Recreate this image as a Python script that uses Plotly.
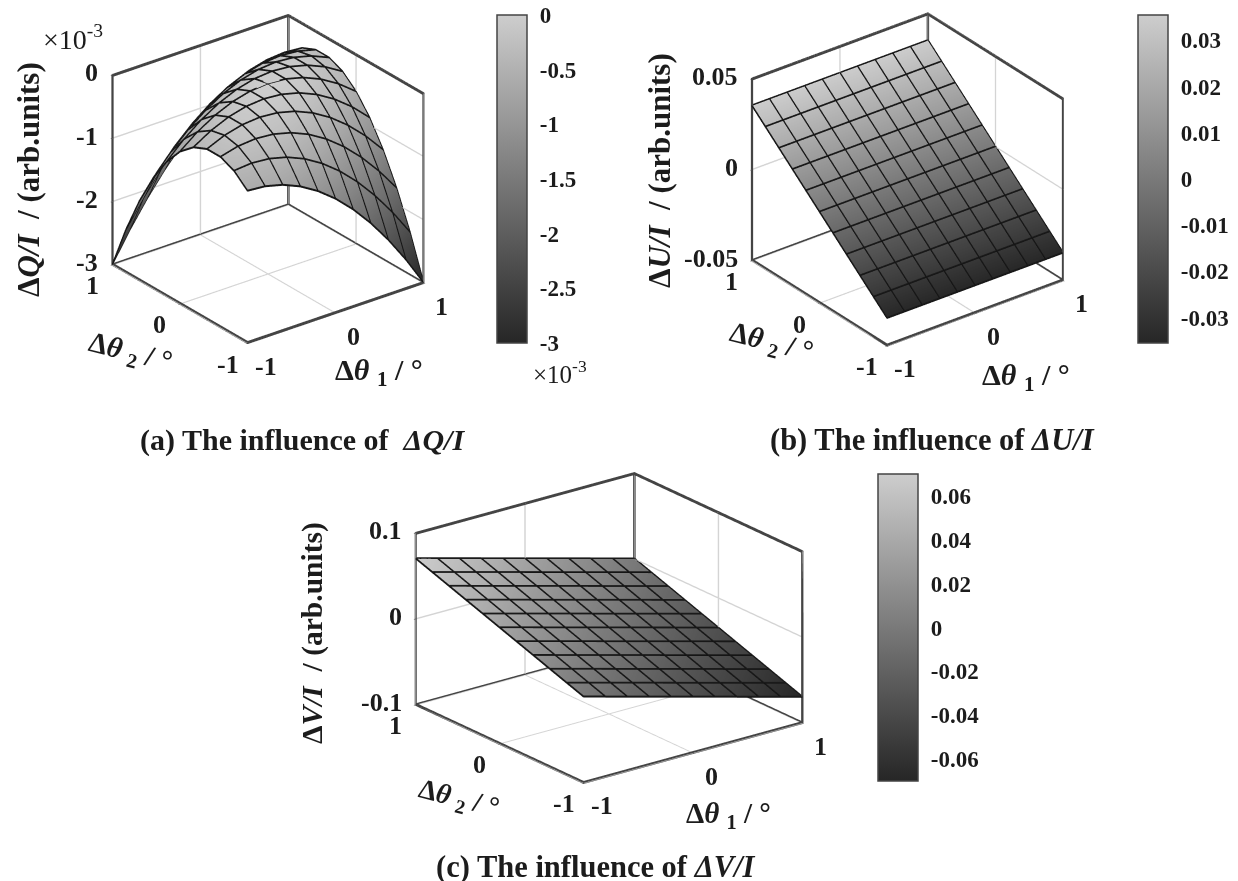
import math
import plotly.graph_objects as go

W, H = 1238, 881
theta1 = [-1, -0.8, -0.6, -0.4, -0.2, 0, 0.2, 0.4, 0.6, 0.8, 1]
theta2 = [-1, -0.8, -0.6, -0.4, -0.2, 0, 0.2, 0.4, 0.6, 0.8, 1]
angle_ticks = [-1, 0, 1]
angle_labels = ["-1", "0", "1"]

# dQ/I in units of 1e-3; rows follow theta2, columns theta1
dQ = [
 [-0.6, -0.624, -0.696, -0.816, -0.984, -1.2, -1.464, -1.776, -2.136, -2.544, -3.0],
 [-0.408, -0.384, -0.408, -0.48, -0.6, -0.768, -0.984, -1.248, -1.56, -1.92, -2.328],
 [-0.312, -0.24, -0.216, -0.24, -0.312, -0.432, -0.6, -0.816, -1.08, -1.392, -1.752],
 [-0.312, -0.192, -0.12, -0.096, -0.12, -0.192, -0.312, -0.48, -0.696, -0.96, -1.272],
 [-0.408, -0.24, -0.12, -0.048, -0.024, -0.048, -0.12, -0.24, -0.408, -0.624, -0.888],
 [-0.6, -0.384, -0.216, -0.096, -0.024, 0, -0.024, -0.096, -0.216, -0.384, -0.6],
 [-0.888, -0.624, -0.408, -0.24, -0.12, -0.048, -0.024, -0.048, -0.12, -0.24, -0.408],
 [-1.272, -0.96, -0.696, -0.48, -0.312, -0.192, -0.12, -0.096, -0.12, -0.192, -0.312],
 [-1.752, -1.392, -1.08, -0.816, -0.6, -0.432, -0.312, -0.24, -0.216, -0.24, -0.312],
 [-2.328, -1.92, -1.56, -1.248, -0.984, -0.768, -0.6, -0.48, -0.408, -0.384, -0.408],
 [-3.0, -2.544, -2.136, -1.776, -1.464, -1.2, -0.984, -0.816, -0.696, -0.624, -0.6],
]
dU = [
 [-0.035] * 11, [-0.028] * 11, [-0.021] * 11, [-0.014] * 11, [-0.007] * 11, [0.0] * 11,
 [0.007] * 11, [0.014] * 11, [0.021] * 11, [0.028] * 11, [0.035] * 11,
]
dV = [
 [0, -0.007, -0.014, -0.021, -0.028, -0.035, -0.042, -0.049, -0.056, -0.063, -0.07],
 [0.007, 0, -0.007, -0.014, -0.021, -0.028, -0.035, -0.042, -0.049, -0.056, -0.063],
 [0.014, 0.007, 0, -0.007, -0.014, -0.021, -0.028, -0.035, -0.042, -0.049, -0.056],
 [0.021, 0.014, 0.007, 0, -0.007, -0.014, -0.021, -0.028, -0.035, -0.042, -0.049],
 [0.028, 0.021, 0.014, 0.007, 0, -0.007, -0.014, -0.021, -0.028, -0.035, -0.042],
 [0.035, 0.028, 0.021, 0.014, 0.007, 0, -0.007, -0.014, -0.021, -0.028, -0.035],
 [0.042, 0.035, 0.028, 0.021, 0.014, 0.007, 0, -0.007, -0.014, -0.021, -0.028],
 [0.049, 0.042, 0.035, 0.028, 0.021, 0.014, 0.007, 0, -0.007, -0.014, -0.021],
 [0.056, 0.049, 0.042, 0.035, 0.028, 0.021, 0.014, 0.007, 0, -0.007, -0.014],
 [0.063, 0.056, 0.049, 0.042, 0.035, 0.028, 0.021, 0.014, 0.007, 0, -0.007],
 [0.07, 0.063, 0.056, 0.049, 0.042, 0.035, 0.028, 0.021, 0.014, 0.007, 0],
]

FONT = "Liberation Serif"
INK = "#1c1c1c"
EDGE = "#444444"
GREYS = [[0, "#262626"], [1, "#cdcdcd"]]


def surf(z, scene, cmin, cmax, cbx, cby0, cby1, cbw, vals, texts):
    return go.Surface(
        x=theta1, y=theta2, z=z, scene=scene, cmin=cmin, cmax=cmax,
        colorscale=GREYS, hoverinfo="skip",
        lighting=dict(ambient=1, diffuse=0, specular=0, roughness=1, fresnel=0),
        contours=dict(
            x=dict(show=True, start=-1, end=1, size=0.2, color="#111111", width=2),
            y=dict(show=True, start=-1, end=1, size=0.2, color="#111111", width=2),
        ),
        colorbar=dict(
            x=cbx / W, xanchor="left", xpad=0, y=1 - cby0 / H, yanchor="top", ypad=0,
            len=cby1 - cby0, lenmode="pixels", thickness=cbw, thicknessmode="pixels",
            outlinecolor=EDGE, outlinewidth=1.5, tickvals=vals, ticktext=texts,
            ticks="outside", ticklen=8, tickcolor="white",
            tickfont=dict(family=FONT, size=23, color=INK, weight="bold"),
        ),
    )


def wire(z, scene, lift):
    # WebGL lines are one pixel wide: a copy lifted by about a pixel thickens them
    xs, ys, zs = [], [], []
    for j, t2 in enumerate(theta2):
        for i, t1 in enumerate(theta1):
            xs.append(t1); ys.append(t2); zs.append(z[j][i] + lift)
        xs.append(None); ys.append(None); zs.append(None)
    for i, t1 in enumerate(theta1):
        for j, t2 in enumerate(theta2):
            xs.append(t1); ys.append(t2); zs.append(z[j][i] + lift)
        xs.append(None); ys.append(None); zs.append(None)
    return go.Scatter3d(x=xs, y=ys, z=zs, scene=scene, mode="lines", hoverinfo="skip",
                        showlegend=False, line=dict(color="#1a1a1a", width=2))


def box(zrng, scene, dx, dy, dz):
    z0, z1 = zrng
    # back faces of the axis box; (dx, dy, dz) pulls a copy inward to thicken the edges
    x0, x1 = -1 + dx, 1 - dx
    y0, y1 = -1 + dy, 1 - dy
    a, b = z0 + dz, z1 - dz
    xs = [x0, x1, x1, x0, x0, None, x0, x1, None, x1, x1, x1, None, x0, x0, None, x1, x1]
    ys = [y1, y1, y0, y0, y1, None, y1, y1, None, y1, y1, y0, None, y1, y1, None, y0, y0]
    zs = [a, a, a, a, a, None, b, b, None, a, b, b, None, a, b, None, a, b]
    return go.Scatter3d(x=xs, y=ys, z=zs, scene=scene, mode="lines", hoverinfo="skip",
                        showlegend=False, line=dict(color=EDGE, width=2))


def axis(rng, vals):
    return dict(
        range=rng, autorange=False, tickvals=vals, title=dict(text=""), showticklabels=False,
        showbackground=False, showgrid=True, gridcolor="#d4d4d4", gridwidth=3,
        showline=True, linecolor=EDGE, linewidth=4, mirror=True, zeroline=False,
        ticks="outside", ticklen=2, tickcolor=EDGE, showspikes=False,
    )


def tick_note(x, y, z, text, xshift, yshift, xanchor="center"):
    return dict(
        x=x, y=y, z=z, text=text, showarrow=False, xanchor=xanchor, yanchor="middle",
        xshift=xshift, yshift=yshift,
        font=dict(family=FONT, size=26, color=INK, weight="bold"),
    )


def scene(x0, x1, y0, y1, zrng, zvals, ztexts, asp, zasp, elev, cx, cy):
    dist = 3.0
    az = math.radians(37.5)
    el = math.radians(elev)
    d = (-math.sin(az) * math.cos(el), -math.cos(az) * math.cos(el), math.sin(el))
    sc = (y1 - y0) / 2
    up = (math.sin(az) * math.sin(el), math.cos(az) * math.sin(el), math.cos(el))
    right = (math.cos(az), -math.sin(az), 0)
    sx = -(cx - (x0 + x1) / 2) / sc
    sy = (cy - (y0 + y1) / 2) / sc
    c = tuple(sx * r + sy * u for r, u in zip(right, up))
    notes = []
    for v, t in zip(angle_ticks, angle_labels):
        notes.append(tick_note(v, -1, zrng[0], t, 18, -23))
        notes.append(tick_note(-1, v, zrng[0], t, -20, -21))
    for v, t in zip(zvals, ztexts):
        notes.append(tick_note(-1, 1, v, t, -12, 2, "right"))
    return dict(
        domain=dict(x=[x0 / W, x1 / W], y=[1 - y1 / H, 1 - y0 / H]),
        aspectmode="manual", aspectratio=dict(x=asp, y=asp, z=zasp),
        camera=dict(
            projection=dict(type="orthographic"),
            center=dict(x=c[0], y=c[1], z=c[2]),
            eye=dict(x=c[0] + d[0] * dist, y=c[1] + d[1] * dist, z=c[2] + d[2] * dist),
            up=dict(x=0, y=0, z=1),
        ),
        xaxis=axis([-1, 1], angle_ticks),
        yaxis=axis([-1, 1], angle_ticks),
        zaxis=axis(zrng, zvals),
        annotations=notes,
    )


fig = go.Figure()
fig.add_trace(surf(dQ, "scene", -3, 0, 497, 15, 343, 30,
                   [0, -0.5, -1, -1.5, -2, -2.5, -3],
                   ["0", "-0.5", "-1", "-1.5", "-2", "-2.5", "-3"]))
fig.add_trace(surf(dU, "scene2", -0.0355, 0.0355, 1138, 15, 343, 30,
                   [0.03, 0.02, 0.01, 0, -0.01, -0.02, -0.03],
                   ["0.03", "0.02", "0.01", "0", "-0.01", "-0.02", "-0.03"]))
fig.add_trace(surf(dV, "scene3", -0.07, 0.07, 878, 474, 781, 40,
                   [0.06, 0.04, 0.02, 0, -0.02, -0.04, -0.06],
                   ["0.06", "0.04", "0.02", "0", "-0.02", "-0.04", "-0.06"]))

# one pixel of height in each panel's z units
px_q, px_u, px_v = 3 / 190, 0.1 / 182, 0.2 / 172
for k in (0, 1):
    fig.add_trace(wire(dQ, "scene", k * px_q))
    fig.add_trace(wire(dU, "scene2", k * px_u))
    fig.add_trace(wire(dV, "scene3", k * px_v))
for rng, sc_name, pz, pxy in (([-3, 0], "scene", px_q, 1 / 110),
                              ([-0.05, 0.05], "scene2", px_u, 1 / 110),
                              ([-0.1, 0.1], "scene3", px_v, 1 / 137)):
    fig.add_trace(box(rng, sc_name, pxy, 0, pz))
    fig.add_trace(box(rng, sc_name, 0, pxy, pz))


def note(text, x, y, size=23, angle=0, bold=True):
    return dict(
        text=text, x=x / W, y=1 - y / H, xref="paper", yref="paper", xanchor="center",
        yanchor="middle", showarrow=False, textangle=angle,
        font=dict(family=FONT, size=size, color=INK, weight="bold" if bold else "normal"),
    )


TH1 = "Δ<i>θ</i> <sub>1</sub> / °"
TH2 = "Δ<i>θ</i> <sub>2</sub> / °"
notes = [
    note("Δ<i>Q/I</i>  / (arb.units)", 28, 180, size=31, angle=-90),
    note("Δ<i>U/I</i>  / (arb.units)", 659, 170, size=31, angle=-90),
    note("Δ<i>V/I</i>  / (arb.units)", 312, 633, size=29.5, angle=-90),
    note(TH2, 130, 353, size=29, angle=14), note(TH1, 379, 372, size=30),
    note(TH2, 771, 343, size=29, angle=14), note(TH1, 1026, 377, size=30),
    note(TH2, 459, 799, size=28, angle=14), note(TH1, 728, 815, size=29),
    note("×10<sup>-3</sup>", 73, 37, size=28, bold=False),
    note("×10<sup>-3</sup>", 560, 372, size=25, bold=False),
    note("(a) The influence of  <i>ΔQ/I</i>", 302, 440, size=30),
    note("(b) The influence of <i>ΔU/I</i>", 932, 440, size=30.5),
    note("(c) The influence of <i>ΔV/I</i>", 596, 867, size=30.5),
]

fig.update_layout(
    width=W, height=H, autosize=False, margin=dict(l=0, r=0, t=0, b=0),
    paper_bgcolor="white", showlegend=False, annotations=notes,
    scene=scene(40, 490, 0, 400, [-3, 0], [-3, -2, -1, 0], ["-3", "-2", "-1", "0"], 1.11, 1.06, 26.4, 268, 179),
    scene2=scene(680, 1130, 0, 400, [-0.05, 0.05], [-0.05, 0, 0.05], ["-0.05", "0", "0.05"], 1.11, 1.04, 28.9, 907.5, 179.5),
    scene3=scene(340, 870, 450, 850, [-0.1, 0.1], [-0.1, 0, 0.1], ["-0.1", "0", "0.1"], 1.38, 0.92, 20.9, 609, 628),
)
fig.write_html("out.html", config={"displayModeBar": False},
               post_script="document.body.style.margin='0';document.documentElement.style.overflow='hidden';")
